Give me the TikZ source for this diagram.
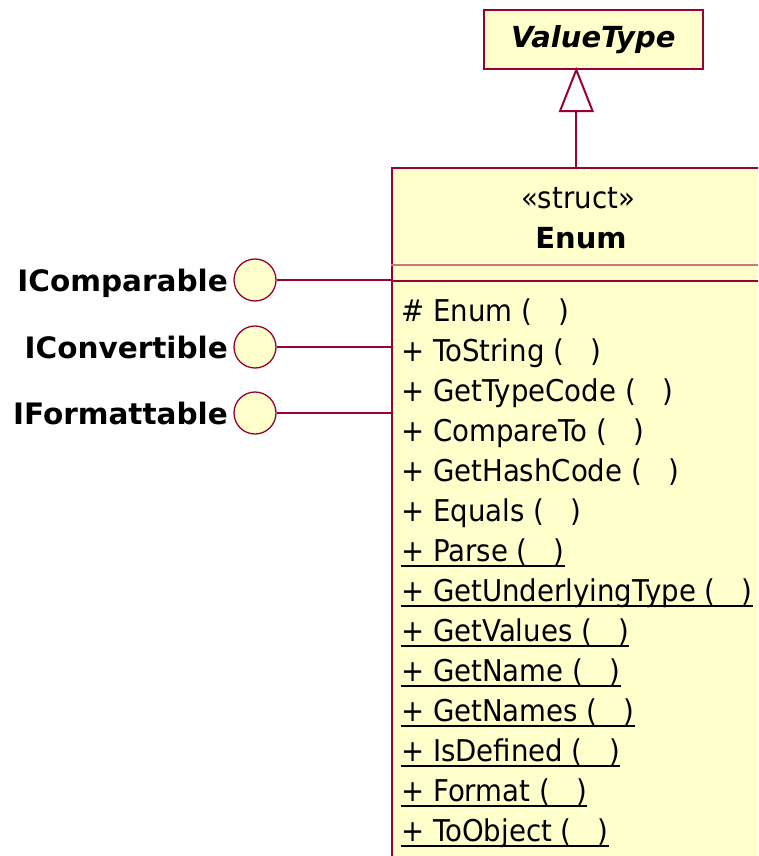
\documentclass[tikz,border=0pt]{standalone}
\usepackage{fontspec}
\setmainfont{DejaVu Sans}
\newfontfamily\opfam{DejaVu Sans}[FakeStretch=0.92]
\usepackage{tikz}
\usetikzlibrary{arrows.meta,positioning}
\definecolor{umlred}{HTML}{990033}
\definecolor{umlsep}{HTML}{C87880}
\definecolor{umlfill}{HTML}{FFFFCC}
\newcommand{\opfont}{\opfam\fontsize{30}{32}\selectfont}
\newcommand{\noargs}{(\ \ \ )}
\tikzset{
  cls/.style={draw=umlred,line width=1.6pt,fill=umlfill,inner sep=0pt},
  lolli/.style={circle,draw=umlred,line width=1.3pt,fill=umlfill,minimum size=42pt,inner sep=0pt},
  iname/.style={anchor=base east,inner sep=0pt,font=\fontsize{29.5}{30}\selectfont\bfseries},
  op/.style={anchor=base west,inner sep=0pt,font=\opfont},
  ln/.style={umlred,line width=2pt},
  inh/.style={umlred,line width=2pt,-{Triangle[open,length=45pt,width=35pt]}},
  ul/.style={line width=2.4pt}
}

\begin{document}
\begin{tikzpicture}[x=1pt,y=-1pt]
\useasboundingbox (0,0) rectangle (758,856);
\clip (0,0) rectangle (758,856);
% base class
\node[cls,anchor=north west,minimum width=219pt,minimum height=59pt,
  font=\fontsize{29}{30}\selectfont\bfseries\itshape] (vt) at (483,9) {ValueType};
% the struct, running off the page
\node[cls,anchor=north west,minimum width=420pt,minimum height=720pt] (enum) at (391,167) {};
\node[font=\opfont] (stereo) at (578,198) {«struct»};
\node[font=\fontsize{29}{30}\selectfont\bfseries] (ename) at (581,238) {Enum};
\draw[umlsep,line width=1.5pt] (enum.west |- 0,265) -- (enum.east |- 0,265);
\draw[umlred,line width=1.5pt] (enum.west |- 0,281) -- (enum.east |- 0,281);
\draw[inh] ([xshift=-17pt]vt.south |- enum.north) -- ([xshift=-17pt,yshift=2.5pt]vt.south);
% interfaces
\node[lolli] (icmp) at (255,280) {};
\node[lolli] (icnv) at (255,347) {};
\node[lolli] (ifmt) at (255,413) {};
\node[iname] (lcmp) at (228,291) {IComparable};
\node[iname] (lcnv) at (228,358) {IConvertible};
\node[iname] (lfmt) at (228,424) {IFormattable};
\foreach \n in {icmp,icnv,ifmt}
  \draw[ln] (\n.east) -- (\n.east -| enum.west);
% operations
\foreach \t [count=\i from 0] in {\# Enum,+ ToString,+ GetTypeCode,
  + CompareTo,+ GetHashCode,+ Equals}
  \node[op] (op\i) at (401,321+40*\i) {\t\ \noargs};
\foreach \t [count=\i from 6] in {+ Parse,+ GetUnderlyingType,+ GetValues,
  + GetName,+ GetNames,+ IsDefined,+ Format,+ ToObject}{
  \node[op] (op\i) at (401,321+40*\i) {\t\ \noargs};
  \draw[ul] ([yshift=-5pt]op\i.base west) -- ([yshift=-5pt]op\i.base east);
}
\end{tikzpicture}
\end{document}
